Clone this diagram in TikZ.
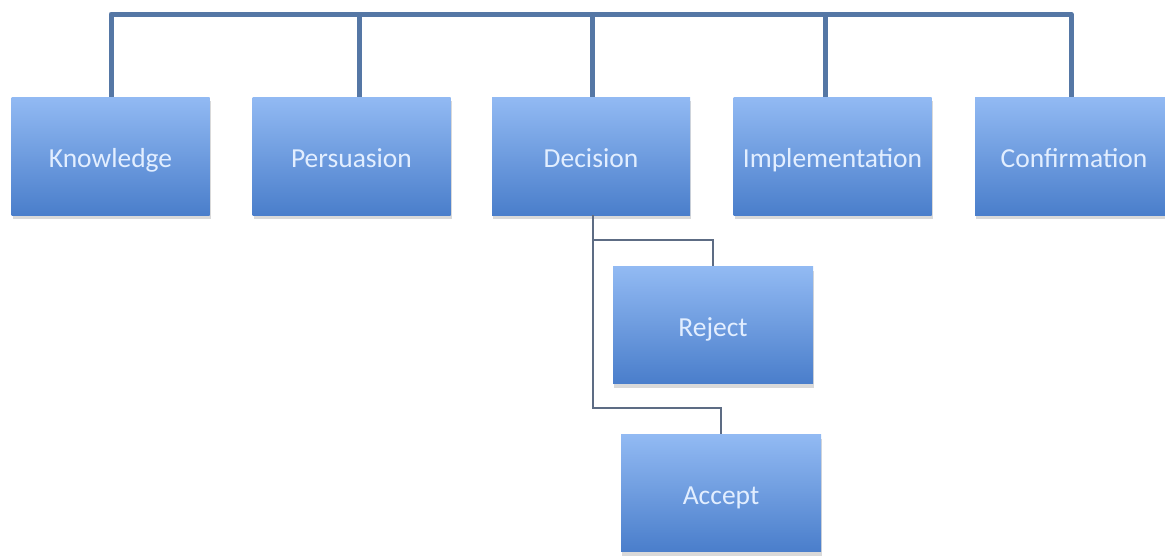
\documentclass[tikz,border=0pt]{standalone}
\usepackage{fontspec}
\setmainfont{Carlito}
\usetikzlibrary{shadows}
\definecolor{boxtop}{HTML}{92BAF3}
\definecolor{boxbot}{HTML}{4A7ECB}
\definecolor{barcol}{HTML}{5577A5}
\definecolor{subcol}{HTML}{5D6C84}
\definecolor{txtcol}{HTML}{E2EEFF}
\tikzset{
    stage/.style={rectangle, minimum width=198pt, minimum height=118pt, inner sep=0pt,
        top color=boxtop, bottom color=boxbot, draw=none,
        text=txtcol, font=\fontsize{27.5}{32}\selectfont, text height=22pt, text depth=0pt,
        drop shadow={shadow xshift=1pt, shadow yshift=-4pt, opacity=0.25, fill=black!60}},
    choice/.style={stage, minimum width=200pt, minimum height=117pt},
    bar/.style={barcol, line width=5pt},
    sub/.style={subcol, line width=2.8pt}
}
\begin{document}
\begin{tikzpicture}[x=1pt,y=-1pt]
    \useasboundingbox (0,0) rectangle (1165,555);
    % 绘制方框
    \node[stage] (know) at (110.5,156) {Knowledge};
    \node[stage] (pers) at (351.5,156) {Persuasion};
    \node[stage] (deci) at (591,156) {Decision};
    \node[stage] (impl) at (832.5,156) {Implementation};
    \node[stage] (conf) at (1074,156) {Confirmation};
    \node[choice] (reje) at (713,325) {Reject};
    \node[choice] (acce) at (721,493) {Accept};

    % 顶部连线
    \coordinate (t1) at (111,14);
    \coordinate (t2) at (359,14);
    \coordinate (t3) at (592,14);
    \coordinate (t4) at (825,14);
    \coordinate (t5) at (1071,14);
    \draw[bar, line join=round] (t1 |- know.north) -- (t1) -- (t5) -- (t5 |- conf.north);
    \draw[bar] (t2) -- (t2 |- pers.north);
    \draw[bar] (t3) -- (t3 |- deci.north);
    \draw[bar] (t4) -- (t4 |- impl.north);

    % Decision 下面的分支
    \coordinate (d1) at (593,240);
    \coordinate (d2) at (593,408);
    \draw[sub] (d1 |- deci.south) -- (d1) -| (reje.north);
    \draw[sub] (d1) -- (d2) -| (acce.north);
\end{tikzpicture}
\end{document}
